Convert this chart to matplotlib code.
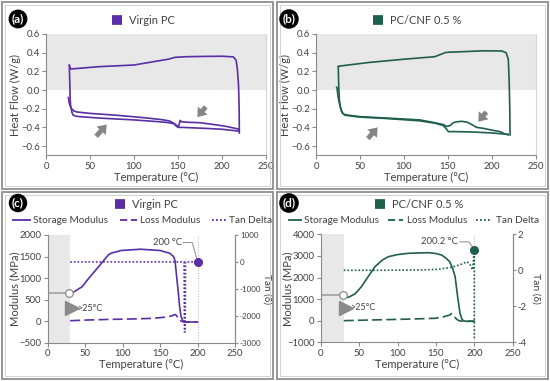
import matplotlib
matplotlib.use("Agg")
import matplotlib.pyplot as plt
from matplotlib.lines import Line2D
from matplotlib.patches import Rectangle

plt.rcParams['font.family'] = ['Lato', 'DejaVu Sans']

PURPLE = '#5a2ea6'
GREEN = '#1f5f4c'
TXT = '#404040'
SPINE = '#8a8a8a'
SHADE = '#e8e8e8'
ARROW = '#858585'

# ---------------- DSC data: Virgin PC (a) ----------------
a_heat1_x = [25.5, 26, 27, 29, 32, 35, 50, 80, 110, 130, 140, 145, 148, 150, 151, 152.5, 154, 160, 175, 195, 205, 215, 219.5]
a_heat1_y = [-0.08, -0.12, -0.16, -0.20, -0.225, -0.235, -0.25, -0.27, -0.295, -0.315, -0.33, -0.355, -0.375, -0.39, -0.38, -0.325, -0.34, -0.345, -0.35, -0.375, -0.39, -0.41, -0.42]
a_cool_x = [219.7, 219.5, 218.8, 217.4, 216, 212.8, 200, 180, 160, 150, 146.6, 139, 120, 100, 60, 28, 26.5]
a_cool_y = [-0.46, -0.20, 0.05, 0.23, 0.32, 0.355, 0.362, 0.36, 0.357, 0.352, 0.35, 0.33, 0.30, 0.268, 0.25, 0.225, 0.265]
a_heat2_x = [26.5, 27.5, 28, 29.5, 31, 34, 38.6, 60, 100, 129.5, 140, 145, 148, 150, 155, 180, 200, 219.5]
a_heat2_y = [0.265, -0.10, -0.17, -0.24, -0.27, -0.28, -0.285, -0.30, -0.32, -0.34, -0.35, -0.36, -0.385, -0.40, -0.40, -0.41, -0.42, -0.44]
a_arrows = [((57, -0.495), (69, -0.37)), ((181.5, -0.18), (172, -0.29))]

# ---------------- DSC data: PC/CNF 0.5 % (b) ----------------
b_heat1_x = [23.5, 24.2, 25, 27, 29.2, 31, 33, 50, 80, 118, 135, 144.7, 148.5, 150.5, 152.3, 156, 160, 165.6, 172, 177, 182.6, 190, 200, 209, 214.8, 218.5]
b_heat1_y = [0.03, 0.0, -0.07, -0.16, -0.23, -0.255, -0.265, -0.285, -0.30, -0.32, -0.35, -0.37, -0.39, -0.385, -0.38, -0.35, -0.34, -0.335, -0.345, -0.37, -0.40, -0.41, -0.43, -0.445, -0.47, -0.48]
b_cool_x = [220.5, 220.2, 219.5, 218.5, 216, 211, 190, 165.6, 150, 146.6, 135, 100, 60, 25.5, 25.3]
b_cool_y = [-0.48, -0.20, 0.10, 0.33, 0.40, 0.418, 0.42, 0.41, 0.405, 0.40, 0.357, 0.33, 0.295, 0.255, 0.25]
b_heat2_x = [25.3, 25.8, 26.5, 28, 30, 33, 50, 80, 118, 135, 144.7, 148.5, 150.4, 156, 180, 200, 218.5]
b_heat2_y = [0.25, 0.05, -0.10, -0.20, -0.245, -0.27, -0.29, -0.305, -0.33, -0.355, -0.38, -0.42, -0.446, -0.445, -0.45, -0.46, -0.475]
b_arrows = [((59, -0.52), (70, -0.40)), ((193.5, -0.235), (184.5, -0.34))]

# ---------------- DMA data: Virgin PC (c) ----------------
c_stor_x = [30, 35, 46, 55, 68, 81, 85, 98, 124, 150, 163, 168, 170, 172, 174, 176, 178, 180.5, 183, 190, 200]
c_stor_y = [647, 680, 800, 1000, 1264, 1540, 1580, 1640, 1670, 1640, 1575, 1500, 1400, 1050, 724, 350, 103, 10, -20, -20, -20]
c_loss_x = [30, 50, 80, 110, 140, 155, 165, 170, 172, 174, 178, 182, 190, 200]
c_loss_y = [10, 25, 40, 50, 65, 90, 120, 155, 130, 60, 0, -20, -20, -20]
c_tan_x = [30, 100, 150, 182, 182.5, 183.5, 184, 200]
c_tan_y = [0, 0, 0, 0, -2600, -2600, 0, 0]
c_initial = 650          # modulus at the start (open circle)
c_peak = (200, 0)        # tan delta marker (°C, tan)
c_label = "200 °C"

# ---------------- DMA data: PC/CNF 0.5 % (d) ----------------
d_stor_x = [30, 36, 45, 53, 62, 70.7, 80, 88, 100, 114, 140, 150, 157.5, 163, 168, 172, 175, 178.3, 181.4, 184, 186, 190, 200]
d_stor_y = [1150, 1080, 1250, 1574, 2050, 2500, 2800, 2963, 3060, 3120, 3150, 3110, 3040, 2900, 2730, 2400, 2040, 1110, 343, 60, 0, -30, -30]
d_loss_x = [30, 50, 80, 105, 130, 149, 160, 168, 170.4, 174, 177, 181, 190, 200]
d_loss_y = [0, 20, 45, 65, 90, 111, 180, 264, 330, 200, 65, -15, -20, -20]
d_tan_x = [30, 80, 130, 152, 171, 184, 190.5, 194.8, 197.8, 200, 200]
d_tan_y = [0, 0, 0.02, 0.05, 0.17, 0.35, 0.48, 0.3, 0.02, 1.15, -3.8]
d_initial = 1200
d_peak = (200, 1.15)
d_label = "200.2 °C"

x_ticks = [0, 50, 100, 150, 200, 250]

W, H = 550, 381
fig = plt.figure(figsize=(W / 100, H / 100), dpi=100)

TICK_FS = 6.8
LAB_FS = 8
LEG_FS = 8
ITEM_FS = 7.2


def fx(px):
    return px / W


def fy(py):
    return 1 - py / H


def rect_ax(l, t, r, b):
    return fig.add_axes([fx(l), fy(b), (r - l) / W, (b - t) / H])


def style(ax, right=False):
    ax.spines['top'].set_visible(False)
    ax.spines['right'].set_visible(right)
    for s in ['left', 'bottom', 'right']:
        ax.spines[s].set_color(SPINE)
        ax.spines[s].set_linewidth(0.8)
    ax.tick_params(colors=SPINE, labelcolor=TXT, labelsize=TICK_FS, length=3, width=0.8, pad=1.5)
    ax.set_xlim(0, 250)
    ax.set_xticks(x_ticks)
    ax.set_xlabel("Temperature (°C)", fontsize=LAB_FS, color=TXT, labelpad=1)


# panel boxes
for (l, t, r, b) in [(2, 2, 273, 189), (277, 2, 548, 189), (2, 192, 273, 379), (277, 192, 548, 379)]:
    fig.add_artist(Rectangle((fx(l), fy(b)), (r - l) / W, (b - t) / H, transform=fig.transFigure,
                             fill=False, ec='#8f8f8f', lw=1.3))
    fig.add_artist(Rectangle((fx(l + 3), fy(b - 3)), (r - l - 6) / W, (b - t - 6) / H, transform=fig.transFigure,
                             fill=False, ec='#d2d2d2', lw=0.7))


def panel_label(px, py, s):
    fig.text(fx(px), fy(py), s, color='white', ha='center', va='center', fontsize=8.5, fontweight='bold',
             bbox=dict(boxstyle='circle,pad=0.22', fc='black', ec='black'))


def left_label(ax, text, center_px, left_px, width_px):
    ax.set_ylabel(text, fontsize=LAB_FS, color=TXT, va='center', ha='center')
    ax.yaxis.set_label_coords((center_px - left_px) / width_px, 0.5)


def dsc(ax, color, heat1, cool, heat2, arrows, name, lx, ly, left_px):
    ax.set_ylim(-0.7, 0.6)
    ax.axhspan(0, 0.6, color=SHADE, zorder=0, lw=0)
    ax.plot(*heat1, color=color, lw=1.2)
    ax.plot(*cool, color=color, lw=1.2)
    ax.plot(*heat2, color=color, lw=1.2)
    for tail, head in arrows:
        ax.annotate("", xy=head, xytext=tail,
                    arrowprops=dict(arrowstyle='simple,head_length=0.6,head_width=0.9,tail_width=0.35',
                                    fc=ARROW, ec='none', shrinkA=0, shrinkB=0, mutation_scale=10))
    ax.set_yticks([-0.6, -0.4, -0.2, 0.0, 0.2, 0.4, 0.6])
    ax.set_yticklabels(["−0.6", "−0.4", "−0.2", "0.0", "0.2", "0.4", "0.6"])
    left_label(ax, "Heat Flow (W/g)", left_px - 31, left_px, 220)
    style(ax, right=True)
    ax.spines['right'].set_color('#d5d5d5')
    ax.tick_params(axis='y', right=False)
    fig.add_artist(Line2D([fx(lx - 5), fx(lx + 5)], [fy(ly), fy(ly)], transform=fig.transFigure,
                          color=color, lw=7, solid_capstyle='butt'))
    fig.text(fx(lx + 12), fy(ly), name, fontsize=LEG_FS, color=TXT, va='center', ha='left')


ax_a = rect_ax(46, 34, 266, 155.4)
dsc(ax_a, PURPLE, (a_heat1_x, a_heat1_y), (a_cool_x, a_cool_y), (a_heat2_x, a_heat2_y), a_arrows,
    "Virgin PC", 117, 20, 46)
panel_label(18, 19, "(a)")

ax_b = rect_ax(316, 34, 536, 155.4)
dsc(ax_b, GREEN, (b_heat1_x, b_heat1_y), (b_cool_x, b_cool_y), (b_heat2_x, b_heat2_y), b_arrows,
    "PC/CNF 0.5 %", 378, 20, 316)
panel_label(289, 19, "(b)")


def dma(ax, color, stor, loss, tan, initial, peak, label, ylim, yticks, tlim, tticks, tlabels,
        name, lx, ly, items, left_px, right_px, tan_px, tick_fs_r, tan_fs):
    width_px = right_px - left_px
    ax.set_ylim(*ylim)
    ax.set_yticks(yticks)
    ax.set_yticklabels([str(v).replace('-', '−') for v in yticks])
    ax.axvspan(0, 30, color=SHADE, zorder=0, lw=0)
    ax.axvline(200, color='#b5b5b5', ls=':', lw=0.7, zorder=1)
    ax.plot([0, 27], [initial, initial], color='#a0a0a0', lw=1.2, zorder=2)
    ax.plot(*stor, color=color, lw=1.2, zorder=3)
    ax.plot(*loss, color=color, lw=1.2, ls=(0, (6, 2.5)), zorder=3)
    ax.plot([29], [initial], marker='o', ms=5.5, mfc='white', mec='#8a8a8a', mew=0.9, zorder=5)
    tri_y = ylim[0] + (ylim[1] - ylim[0]) * 0.32
    ax.plot([33], [tri_y], marker='>', ms=10, color='#8a8a8a', zorder=5)
    ax.text(40, tri_y, ">25°C", fontsize=6.5, color=TXT, va='center', ha='left')
    left_label(ax, "Modulus (MPa)", left_px - 33, left_px, width_px)
    style(ax, right=True)
    ax.tick_params(axis='y', right=False)

    t = ax.twinx()
    t.set_ylim(*tlim)
    t.set_yticks(tticks)
    t.set_yticklabels(tlabels)
    t.plot(*tan, color=color, lw=1.2, ls=(0, (1, 1.2)), zorder=3)
    t.plot([peak[0]], [peak[1]], 'o', ms=5.5, color=color, zorder=6)
    for s in ['top', 'left', 'bottom']:
        t.spines[s].set_visible(False)
    t.spines['right'].set_color(SPINE)
    t.spines['right'].set_linewidth(0.8)
    t.tick_params(colors=SPINE, labelcolor=TXT, labelsize=tick_fs_r, length=2.5, width=0.8, pad=1)
    t.set_ylabel("Tan (δ)", fontsize=tan_fs, color=TXT, rotation=-90, va='center', ha='center')
    t.yaxis.set_label_coords((tan_px - left_px) / width_px, 0.5)
    # label with leader line
    span = tlim[1] - tlim[0]
    ly_t = tlim[1] - span * 0.07
    t.text(179, ly_t, label, fontsize=6.8, color=TXT, ha='right', va='center')
    t.plot([181, 193, peak[0]], [ly_t, ly_t, peak[1]], color='#9a9a9a', lw=0.8, zorder=4)

    # legend
    fig.add_artist(Line2D([fx(lx - 5), fx(lx + 5)], [fy(ly), fy(ly)], transform=fig.transFigure,
                          color=color, lw=7, solid_capstyle='butt'))
    fig.text(fx(lx + 12), fy(ly), name, fontsize=LEG_FS, color=TXT, va='center', ha='left')
    ly2 = ly + 16
    for (x1, x2, tx, txt, ls) in items:
        fig.add_artist(Line2D([fx(x1), fx(x2)], [fy(ly2), fy(ly2)], transform=fig.transFigure,
                              color=color, lw=1.3, ls=ls))
        fig.text(fx(tx), fy(ly2), txt, fontsize=ITEM_FS, color=TXT, va='center', ha='left')


ax_c = rect_ax(47.7, 235, 235, 342.7)
dma(ax_c, PURPLE, (c_stor_x, c_stor_y), (c_loss_x, c_loss_y), (c_tan_x, c_tan_y), c_initial, c_peak, c_label,
    (-500, 2000), [-500, 0, 500, 1000, 1500, 2000],
    (-3000, 1000), [-3000, -2000, -1000, 0, 1000], ["-3000", "-2000", "-1000", "0", "1000"],
    "Virgin PC", 120, 204,
    [(13, 30, 33, "Storage Modulus", '-'), (120, 137, 140, "Loss Modulus", (0, (4, 2))),
     (212, 226, 229, "Tan Delta", (0, (1, 1.2)))],
    47.7, 235, 266.6, 5.8, 7.2)
panel_label(18, 203, "(c)")

ax_d = rect_ax(320.7, 234.3, 512.7, 342.3)
dma(ax_d, GREEN, (d_stor_x, d_stor_y), (d_loss_x, d_loss_y), (d_tan_x, d_tan_y), d_initial, d_peak, d_label,
    (-1000, 4000), [-1000, 0, 1000, 2000, 3000, 4000],
    (-4, 2), [-4, -2, 0, 2], ["-4", "-2", "0", "2"],
    "PC/CNF 0.5 %", 380, 204,
    [(289, 301, 304, "Storage Modulus", '-'), (388, 403, 407, "Loss Modulus", (0, (4, 2))),
     (476, 492, 496, "Tan Delta", (0, (1, 1.2)))],
    320.7, 512.7, 536, 6.8, 7.5)
panel_label(289, 203, "(d)")

fig.savefig("out.png", dpi=100)
